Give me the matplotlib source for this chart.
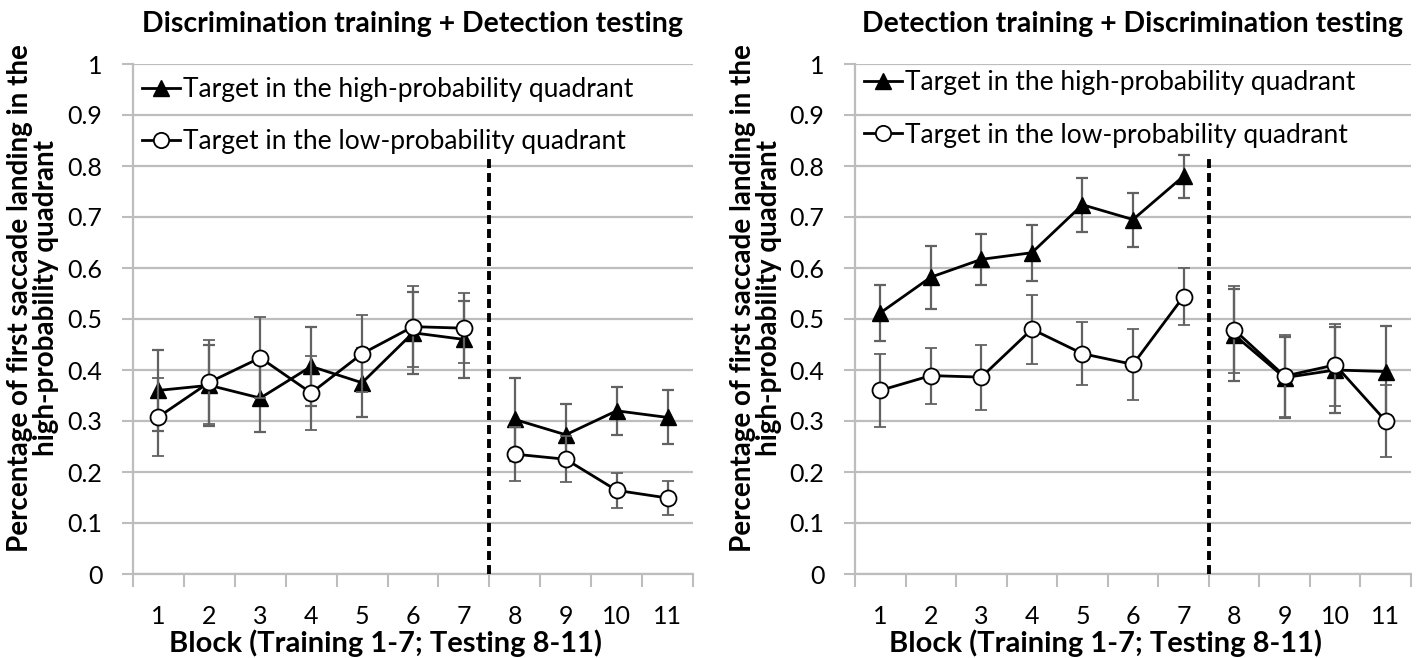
import numpy as np
import matplotlib
matplotlib.use('Agg')
import matplotlib.pyplot as plt
from matplotlib.lines import Line2D

plt.rcParams['font.family'] = ['Lato', 'DejaVu Sans']

BLOCKS = np.arange(1, 12)
HIGH_LABEL = 'Target in the high-probability quadrant'
LOW_LABEL = 'Target in the low-probability quadrant'
TITLES = ['Discrimination training + Detection testing',
          'Detection training + Discrimination testing']
YLABEL = 'Percentage of first saccade landing in the\nhigh-probability quadrant'
XLABEL = 'Block (Training 1-7; Testing 8-11)'
Y_TICKS = [0, 0.1, 0.2, 0.3, 0.4, 0.5, 0.6, 0.7, 0.8, 0.9, 1]
Y_TICK_LABELS = ['0', '0.1', '0.2', '0.3', '0.4', '0.5', '0.6', '0.7', '0.8', '0.9', '1']

# left panel: discrimination training + detection testing
left_high = [0.36, 0.37, 0.345, 0.407, 0.375, 0.473, 0.46, 0.303, 0.273, 0.32, 0.307]
left_high_err = [0.08, 0.08, 0.067, 0.078, 0.068, 0.08, 0.076, 0.082, 0.06, 0.047, 0.053]
left_low = [0.308, 0.376, 0.424, 0.355, 0.432, 0.485, 0.482, 0.235, 0.225, 0.164, 0.149]
left_low_err = [0.077, 0.082, 0.079, 0.072, 0.076, 0.08, 0.069, 0.053, 0.045, 0.035, 0.034]

# right panel: detection training + discrimination testing
right_high = [0.512, 0.582, 0.617, 0.63, 0.724, 0.695, 0.78, 0.469, 0.385, 0.40, 0.397]
right_high_err = [0.055, 0.062, 0.05, 0.055, 0.053, 0.053, 0.042, 0.09, 0.08, 0.085, 0.09]
right_low = [0.36, 0.389, 0.386, 0.48, 0.432, 0.411, 0.544, 0.479, 0.388, 0.41, 0.30]
right_low_err = [0.072, 0.055, 0.064, 0.068, 0.062, 0.07, 0.056, 0.085, 0.08, 0.08, 0.07]

GRID_COLOR = '#bdbdbd'
ERR_COLOR = '#626262'

HIGH_STYLE = dict(color='black', lw=2, marker='^', ms=12, mfc='black', mec='black')
LOW_STYLE = dict(color='black', lw=2, marker='o', ms=11.5, mfc='white',
                 mec='black', mew=1.3)
ERR_STYLE = dict(ecolor=ERR_COLOR, elinewidth=1.6, capsize=4, capthick=1.6)

W, H = 1418, 658
fig = plt.figure(figsize=(W / 100, H / 100), dpi=100)
ax_left = fig.add_axes([133 / W, 84 / H, 560 / W, 510 / H])
ax_right = fig.add_axes([855 / W, 84 / H, 556 / W, 510 / H])


def draw_panel(ax, high, high_err, low, low_err, title, legend_top, ylabel_x):
    # training (1-7) and testing (8-11) are separate, unjoined segments
    for part in (slice(0, 7), slice(7, 11)):
        ax.errorbar(BLOCKS[part], high[part], yerr=high_err[part],
                    zorder=3, **HIGH_STYLE, **ERR_STYLE)
    for part in (slice(0, 7), slice(7, 11)):
        ax.errorbar(BLOCKS[part], low[part], yerr=low_err[part],
                    zorder=4, **LOW_STYLE, **ERR_STYLE)

    ax.plot([7.5, 7.5], [0, 0.82], color='black', lw=2.8,
            linestyle=(0, (2.3, 1.3)), zorder=5)

    ax.set_xlim(0.5, 11.5)
    ax.set_ylim(0, 1)
    ax.set_yticks(Y_TICKS)
    ax.set_yticklabels(Y_TICK_LABELS)
    ax.set_xticks(np.arange(0.5, 12, 1))
    ax.set_xticklabels([])
    ax.set_xticks(BLOCKS, minor=True)
    ax.set_xticklabels([str(b) for b in BLOCKS], minor=True)
    ax.tick_params(axis='x', which='major', length=9, width=1.5, color=GRID_COLOR)
    ax.tick_params(axis='x', which='minor', length=0, pad=22, labelsize=18)
    ax.tick_params(axis='y', length=8, width=1.5, color=GRID_COLOR, pad=14,
                   labelsize=18)
    ax.yaxis.grid(True, color=GRID_COLOR, lw=1.6)
    ax.set_axisbelow(True)
    for side in ['top', 'right']:
        ax.spines[side].set_visible(False)
    for side in ['left', 'bottom']:
        ax.spines[side].set_color(GRID_COLOR)
        ax.spines[side].set_linewidth(1.6)

    pos = ax.get_position()
    fig.text(pos.x0 + 0.45 * pos.width, 6 / H, XLABEL, ha='center',
             va='baseline', fontsize=21, fontweight='bold')
    fig.text(pos.x0 + 0.5 * pos.width, 1 - 32 / H, title, ha='center',
             va='baseline', fontsize=20.5, fontweight='bold')
    fig.text(ylabel_x / W, 1 - 298 / H, YLABEL, rotation=90, ha='center',
             va='center', fontsize=20, fontweight='bold',
             multialignment='center', linespacing=1.0)

    handles = [Line2D([], [], **dict(HIGH_STYLE, ms=11)),
               Line2D([], [], **dict(LOW_STYLE, ms=11))]
    ax.legend(handles, [HIGH_LABEL, LOW_LABEL], loc='upper left',
              bbox_to_anchor=(0.016, legend_top), frameon=False, fontsize=19,
              handlelength=1.45, handletextpad=0.1, labelspacing=1.04,
              borderpad=0, borderaxespad=0)


draw_panel(ax_left, left_high, left_high_err, left_low, left_low_err,
           TITLES[0], 0.975, 33)
draw_panel(ax_right, right_high, right_high_err, right_low, right_low_err,
           TITLES[1], 0.988, 756)

fig.savefig('out.png', dpi=100)
